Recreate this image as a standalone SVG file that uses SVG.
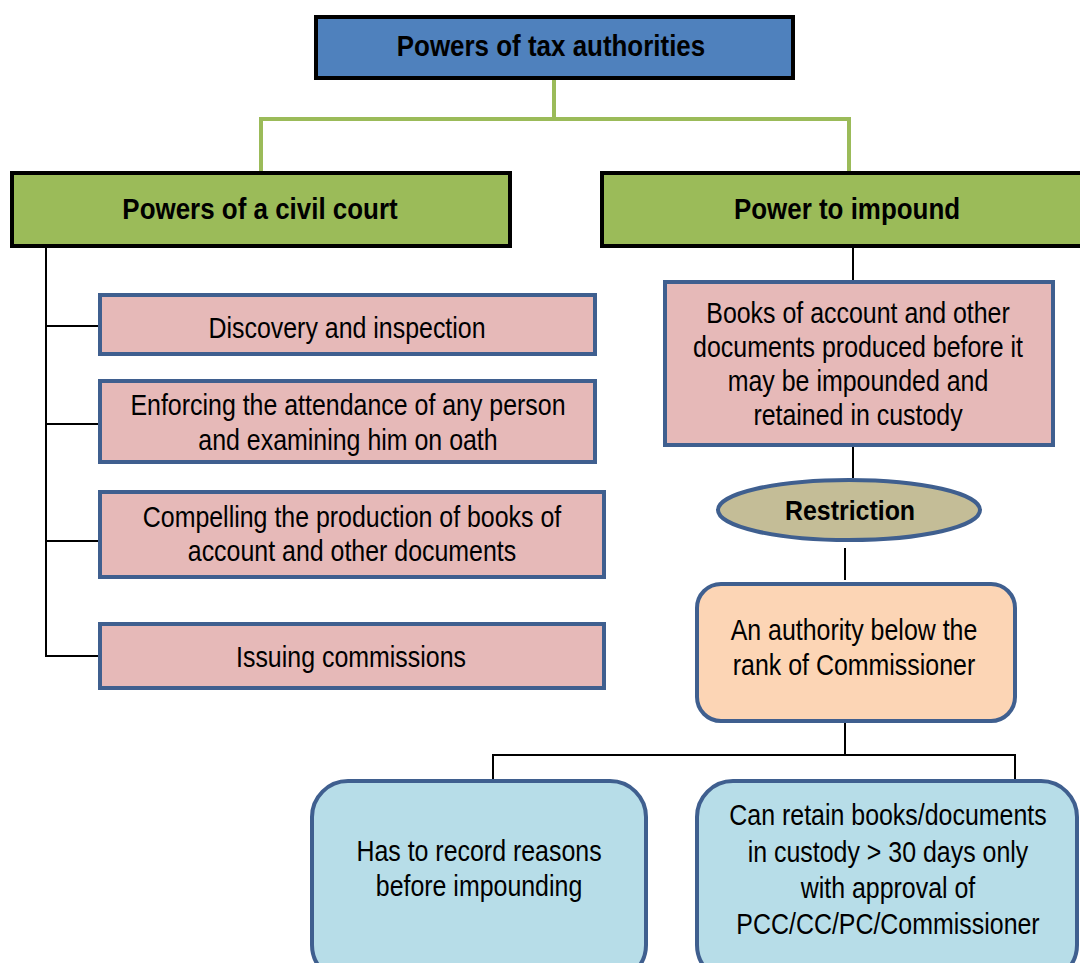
<svg xmlns="http://www.w3.org/2000/svg" width="1080" height="963" viewBox="0 0 1080 963">
<style>
text{font-family:"Liberation Sans",Arial,sans-serif;font-size:29px;fill:#000;text-anchor:middle}
.b{font-weight:bold;font-size:30px}
.blk{fill:none;stroke:#000;stroke-width:2}
.grn{fill:none;stroke:#9BBB59;stroke-width:4}
.pink{fill:#E6B9B8;stroke:#3F5F8F;stroke-width:4}
</style>
<rect width="1080" height="963" fill="#fff"/>
<g id="connectors">
<path class="grn" d="M554 78V119M261 119H849M261 117V172M849 117V172"/>
<path class="blk" d="M46 246V656M46 326H100M46 424H100M46 541H100M45 656H100"/>
<path class="blk" d="M853 246V281M853 445V478M845 548V580M845 722V755M493 755H1015M493 754V781M1015 754V781"/>
</g>
<g id="n-top"><rect x="316" y="17" width="477" height="61" fill="#4F81BD" stroke="#000" stroke-width="4"/><text class="b" transform="matrix(0.865 0 0 1 551 0)" y="56">Powers of tax authorities</text></g>
<g id="n-civil"><rect x="12" y="173" width="498" height="73" fill="#9BBB59" stroke="#000" stroke-width="4"/><text class="b" transform="matrix(0.865 0 0 1 260 0)" y="219">Powers of a civil court</text></g>
<g id="n-impound"><rect x="602" y="173" width="490" height="73" fill="#9BBB59" stroke="#000" stroke-width="4"/><text class="b" transform="matrix(0.865 0 0 1 847 0)" y="219">Power to impound</text></g>
<g id="n-disc"><rect class="pink" x="100" y="295" width="495" height="59"/><text transform="matrix(0.86 0 0 1 347 0)" y="338">Discovery and inspection</text></g>
<g id="n-enf"><rect class="pink" x="100" y="381" width="495" height="81"/><g transform="matrix(0.86 0 0 1 348 0)"><text y="415">Enforcing the attendance of any person</text><text y="450">and examining him on oath</text></g></g>
<g id="n-comp"><rect class="pink" x="100" y="492" width="504" height="85"/><g transform="matrix(0.86 0 0 1 352 0)"><text y="527">Compelling the production of books of</text><text y="561">account and other documents</text></g></g>
<g id="n-issue"><rect class="pink" x="100" y="624" width="504" height="64"/><text transform="matrix(0.86 0 0 1 351 0)" y="667">Issuing commissions</text></g>
<g id="n-books"><rect class="pink" x="665" y="282" width="388" height="163"/><g transform="matrix(0.86 0 0 1 858 0)"><text y="323">Books of account and other</text><text y="357">documents produced before it</text><text y="391">may be impounded and</text><text y="425">retained in custody</text></g></g>
<g id="n-restr"><ellipse cx="849" cy="510" rx="131" ry="30" fill="#C4BD97" stroke="#3F5F8F" stroke-width="4"/><text class="b" style="font-size:28px" transform="matrix(0.89 0 0 1 850 0)" y="520">Restriction</text></g>
<g id="n-auth"><rect x="697" y="584" width="318" height="137" rx="24" fill="#FCD5B5" stroke="#3F5F8F" stroke-width="4"/><g transform="matrix(0.86 0 0 1 854 0)"><text y="640">An authority below the</text><text y="675">rank of Commissioner</text></g></g>
<g id="n-rec"><rect x="312" y="781" width="334" height="200" rx="36" fill="#B7DDE8" stroke="#3F5F8F" stroke-width="4"/><g transform="matrix(0.86 0 0 1 479 0)"><text y="861">Has to record reasons</text><text y="896">before impounding</text></g></g>
<g id="n-ret"><rect x="697" y="781" width="380" height="200" rx="36" fill="#B7DDE8" stroke="#3F5F8F" stroke-width="4"/><g transform="matrix(0.86 0 0 1 888 0)"><text y="825">Can retain books/documents</text><text y="862">in custody &gt; 30 days only</text><text y="898">with approval of</text><text y="934">PCC/CC/PC/Commissioner</text></g></g>
</svg>
